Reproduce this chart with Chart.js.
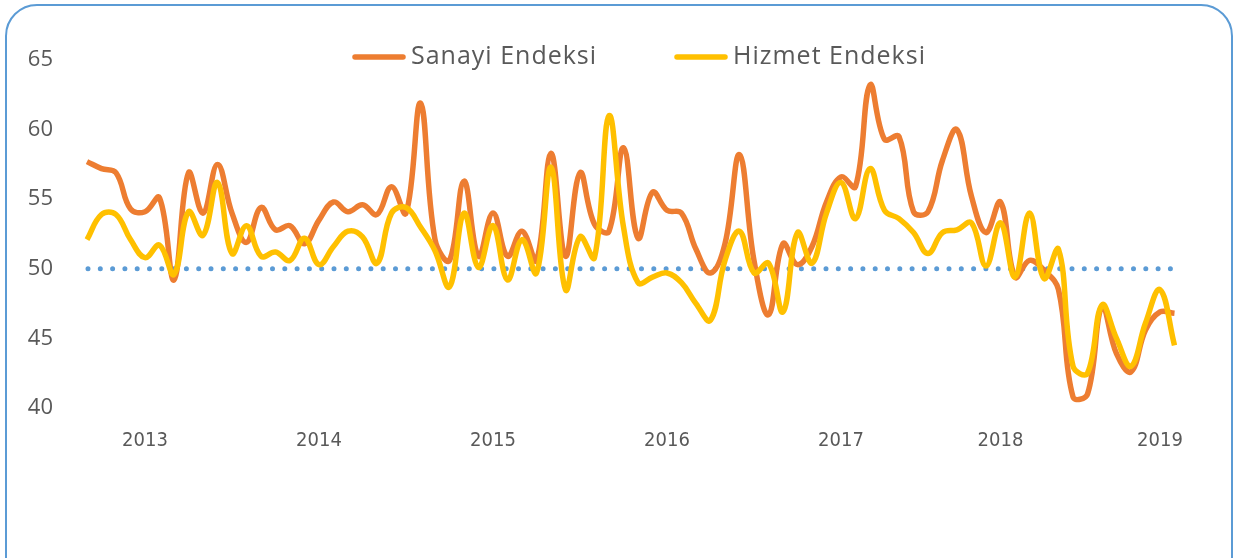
<!DOCTYPE html>
<html lang="tr">
  <head>
    <meta charset="UTF-8" />
    <title>Sanayi ve Hizmet Endeksi</title>
    <script src="https://cdn.jsdelivr.net/npm/chart.js"></script>
    <style>
      html, body { margin: 0; padding: 0; background: #fff; overflow: hidden; }
      #wrap { position: relative; width: 1237px; height: 558px; }
      #frame {
        position: absolute; left: 5px; top: 4px; width: 1228px; height: 620px;
        border: 2px solid #5b9bd5; border-radius: 32px; box-sizing: border-box;
      }
      canvas { position: absolute; left: 0; top: 0; }
    </style>
  </head>
  <body>
    <div id="wrap">
      <div id="frame"></div>
      <canvas id="chart" width="1237" height="558"></canvas>
    </div>
    <script>
      // tick labels: one year label under some of the monthly points
      const yearLabels = ['2013', '2014', '2015', '2016', '2017', '2018', '2019'];
      const yearIndex = [4, 16, 28, 40, 52, 63, 74];

      const sanayi = [57.7, 57.2, 56.9, 54.3, 54.1, 55.1, 49.2, 56.9, 54.0, 57.5,
        54.0, 51.9, 54.4, 52.8, 53.1, 51.8, 53.5, 54.8, 54.1, 54.6,
        53.9, 55.9, 54.0, 61.9, 52.1, 50.6, 56.3, 50.9, 54.0, 50.9,
        52.7, 50.6, 58.3, 50.9, 56.9, 53.2, 52.7, 58.7, 52.2, 55.5,
        54.2, 54.0, 51.4, 49.7, 51.8, 58.2, 50.6, 46.7, 51.8, 50.3,
        51.6, 54.8, 56.6, 55.9, 63.2, 59.3, 59.5, 54.1, 54.1, 57.8,
        60.0, 55.2, 52.6, 54.8, 49.4, 50.6, 49.9, 48.5, 40.8, 41.0,
        47.3, 43.9, 42.6, 45.6, 46.9, 46.8];

      const hizmet = [52.1, 53.9, 53.9, 52.1, 50.8, 51.7, 49.6, 54.1, 52.4, 56.2,
        51.1, 53.1, 50.9, 51.2, 50.6, 52.2, 50.3, 51.6, 52.7, 52.3,
        50.4, 54.0, 54.4, 53.0, 51.3, 48.7, 54.0, 50.1, 53.1, 49.2,
        52.1, 49.7, 57.3, 48.5, 52.3, 50.8, 61.0, 53.0, 49.0, 49.4,
        49.7, 49.0, 47.5, 46.3, 50.6, 52.7, 49.7, 50.4, 46.9, 52.6,
        50.4, 54.0, 56.2, 53.6, 57.2, 54.2, 53.6, 52.6, 51.1, 52.6,
        52.8, 53.3, 50.2, 53.3, 49.4, 54.0, 49.3, 51.4, 43.0, 42.5,
        47.4, 45.0, 43.0, 46.1, 48.5, 44.5];

      const seriesNames = ['Sanayi Endeksi', 'Hizmet Endeksi'];
      const refLevel = 50;

      const labels = sanayi.map(() => '');
      yearIndex.forEach((idx, i) => { labels[idx] = yearLabels[i]; });

      const grey = '#595959';

      // dotted 50 line, drawn under the series
      const refLine = {
        id: 'refLine',
        beforeDatasetsDraw(chart) {
          const { ctx, chartArea, scales } = chart;
          const y = scales.y.getPixelForValue(refLevel);
          ctx.save();
          ctx.strokeStyle = '#5b9bd5';
          ctx.lineWidth = 5;
          ctx.lineCap = 'round';
          ctx.setLineDash([0, 12.3]);
          ctx.beginPath();
          ctx.moveTo(chartArea.left + 1, y);
          ctx.lineTo(chartArea.right - 2, y);
          ctx.stroke();
          ctx.restore();
        }
      };

      // legend sits over the top of the plot, like the original
      const topLegend = {
        id: 'topLegend',
        afterDraw(chart) {
          const { ctx } = chart;
          const startX = [353, 675];
          const y = 57;
          ctx.save();
          ctx.font = '25px "Open Sans", sans-serif';
          ctx.letterSpacing = '1px';
          ctx.textBaseline = 'middle';
          ctx.fillStyle = grey;
          chart.data.datasets.forEach((ds, i) => {
            const x = startX[i];
            ctx.strokeStyle = ds.borderColor;
            ctx.lineWidth = 5.5;
            ctx.lineCap = 'round';
            ctx.beginPath();
            ctx.moveTo(x + 2, y);
            ctx.lineTo(x + 50, y);
            ctx.stroke();
            ctx.fillText(ds.label, x + 58, y);
          });
          ctx.restore();
        }
      };

      new Chart(document.getElementById('chart'), {
        type: 'line',
        data: {
          labels: labels,
          datasets: [
            {
              label: seriesNames[0],
              data: sanayi,
              borderColor: '#ed7d31',
              borderWidth: 5.5,
              pointRadius: 0,
              tension: 0.4,
              order: 2
            },
            {
              label: seriesNames[1],
              data: hizmet,
              borderColor: '#ffc000',
              borderWidth: 5.5,
              pointRadius: 0,
              tension: 0.4,
              order: 1
            }
          ]
        },
        options: {
          responsive: false,
          animation: false,
          layout: { padding: { top: 60, right: 62.5, left: 0, bottom: 0 } },
          plugins: {
            legend: { display: false },
            tooltip: { enabled: false }
          },
          scales: {
            x: {
              grid: { display: false, drawTicks: false },
              border: { display: false },
              ticks: {
                autoSkip: false,
                maxRotation: 0,
                padding: 21,
                color: grey,
                font: { family: '"DejaVu Sans Condensed", "Liberation Sans Narrow", sans-serif', size: 20 }
              },
              afterFit: (scale) => { scale.height = 150; }
            },
            y: {
              min: 40,
              max: 65,
              grid: { display: false, drawTicks: false },
              border: { display: false },
              ticks: {
                stepSize: 5,
                padding: 34,
                color: grey,
                font: { family: '"Open Sans", sans-serif', size: 22 }
              },
              afterFit: (scale) => { scale.width = 87; }
            }
          }
        },
        plugins: [refLine, topLegend]
      });
    </script>
  </body>
</html>
